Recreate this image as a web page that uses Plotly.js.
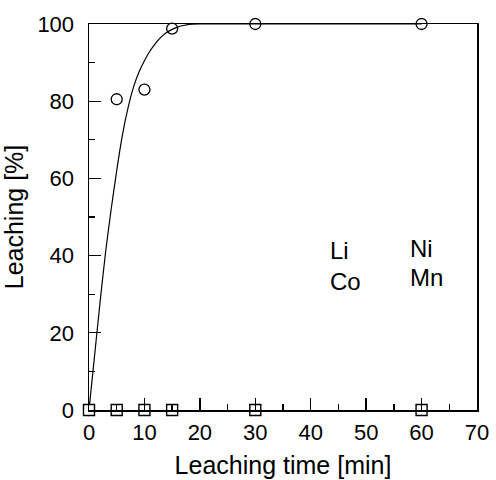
<!DOCTYPE html>
<html>
<head>
<meta charset="utf-8">
<script src="https://cdn.plot.ly/plotly-3.0.1.min.js"></script>
<style>html,body{margin:0;padding:0;background:#fff;}#chart{width:496px;height:480px;}</style>
</head>
<body>
<div id="chart"></div>
<script>
// Measured data
const liTime = [0, 5, 10, 15, 30, 60];
const liLeach = [0, 80.5, 83, 98.8, 100, 100];
const otherTime = [0, 5, 10, 15, 30, 60];
const otherLeach = [0, 0, 0, 0, 0, 0];
// Fitted curve
const fitTime = [0, 1, 2, 3, 4, 5, 6, 7, 8, 9, 10, 11, 12, 13, 14, 15, 16, 17, 18, 20, 30, 60];
const fitLeach = [0, 14, 28, 41, 52, 62, 71, 78, 83.5, 87.5, 90.5, 93, 95, 96.6, 97.8, 98.6, 99.2, 99.6, 99.9, 100, 100, 100];
const labels = ["Li", "Co", "Ni", "Mn"];
const labelX = [43.2, 43.2, 57.5, 57.5];
const labelY = [41.3, 33.2, 41.8, 34.2];
const xTicks = [0, 10, 20, 30, 40, 50, 60, 70];
const yTicks = [0, 20, 40, 60, 80, 100];

const font = "Liberation Sans, Arial, sans-serif";
const traces = [
  {x: fitTime, y: fitLeach, mode: "lines", line: {color: "#000", width: 1.2, shape: "spline", smoothing: 0.6}, hoverinfo: "skip", cliponaxis: false},
  {x: liTime, y: liLeach, mode: "markers", marker: {symbol: "circle-open", size: 11, color: "#000", line: {width: 1.3}}, cliponaxis: false},
  {x: otherTime, y: otherLeach, mode: "markers", marker: {symbol: "square", size: 11, color: "#fff", line: {color: "#000", width: 1.4}}, cliponaxis: false}
];
const annotations = labels.map((t, i) => ({
  x: labelX[i], y: labelY[i], xref: "x", yref: "y", text: t, showarrow: false,
  xanchor: "left", yanchor: "middle", font: {family: font, size: 24, color: "#000"}
}));
const layout = {
  width: 496, height: 480,
  margin: {l: 89, r: 19, t: 24, b: 70},
  paper_bgcolor: "#fff", plot_bgcolor: "#fff",
  showlegend: false,
  font: {family: font, size: 22, color: "#000"},
  xaxis: {
    range: [0, 70], tickvals: xTicks, ticktext: xTicks.map(String),
    ticks: "inside", ticklen: 12, tickwidth: 1.3, tickcolor: "#000",
    minor: {tickvals: [5, 15, 25, 35, 45, 55, 65], ticks: "inside", ticklen: 6, tickwidth: 1.3, tickcolor: "#000"},
    showline: true, linecolor: "#000", linewidth: 1.5, mirror: true,
    showgrid: false, zeroline: false, ticklabelstandoff: 2,
    title: {text: "Leaching time [min]", font: {size: 25}, standoff: 12}
  },
  yaxis: {
    range: [0, 100], tickvals: yTicks, ticktext: yTicks.map(String),
    ticks: "inside", ticklen: 12, tickwidth: 1.3, tickcolor: "#000",
    minor: {tickvals: [10, 30, 50, 70, 90], ticks: "inside", ticklen: 6, tickwidth: 1.3, tickcolor: "#000"},
    showline: true, linecolor: "#000", linewidth: 1.5, mirror: true,
    showgrid: false, zeroline: false, ticklabelstandoff: 9,
    title: {text: "Leaching [%]", font: {size: 25}, standoff: 9}
  },
  annotations: annotations
};
Plotly.newPlot("chart", traces, layout, {displayModeBar: false, staticPlot: true});
</script>
</body>
</html>
